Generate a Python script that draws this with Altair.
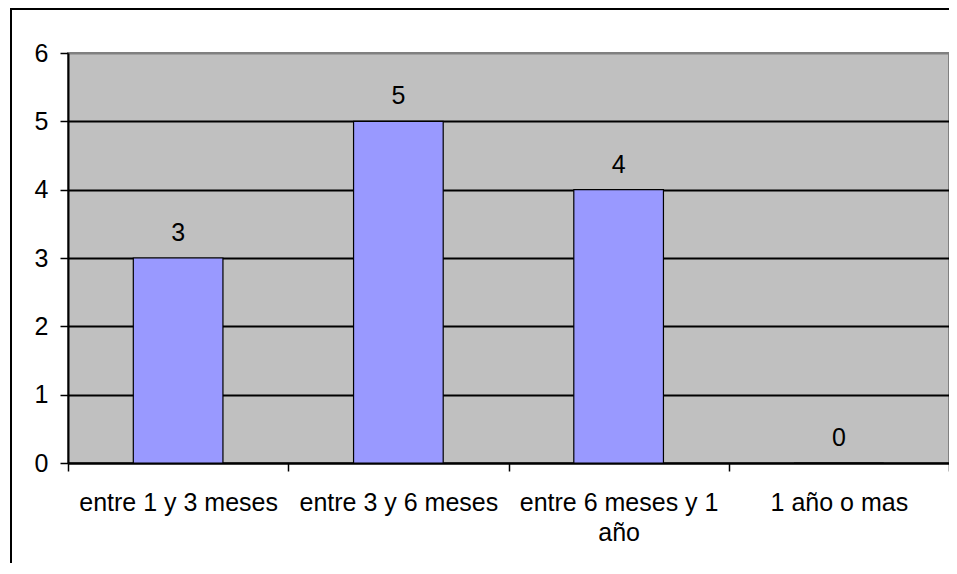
import altair as alt
import pandas as pd

categories = ["entre 1 y 3 meses", "entre 3 y 6 meses", "entre 6 meses y 1 año", "1 año o mas"]
values = [3, 5, 4, 0]
y_ticks = [0, 1, 2, 3, 4, 5, 6]

df = pd.DataFrame({"cat": categories, "val": values})

FONT = "Liberation Sans"
FS = 25

x_enc = alt.X(
    "cat:N",
    sort=None,
    title=None,
    scale=alt.Scale(paddingInner=0, paddingOuter=0),
    axis=alt.Axis(
        labelAngle=0,
        tickBand="extent",
        tickSize=8,
        tickColor="black",
        tickWidth=1.5,
        domainColor="black",
        domainWidth=2,
        labelFont=FONT,
        labelFontSize=FS,
        labelColor="black",
        labelPadding=19,
        labelLimit=0,
        labelLineHeight=30,
        labelBaseline="top",
        labelExpr="datum.label == 'entre 6 meses y 1 año' ? ['entre 6 meses y 1', 'año'] : datum.label",
        grid=False,
    ),
)

y_enc = alt.Y(
    "val:Q",
    title=None,
    scale=alt.Scale(domain=[0, 6], nice=False),
    axis=alt.Axis(
        values=y_ticks,
        format="d",
        tickSize=8,
        tickColor="black",
        tickWidth=1.5,
        domainColor="black",
        domainWidth=2,
        labelFont=FONT,
        labelFontSize=FS,
        labelColor="black",
        labelPadding=12,
        grid=True,
        gridColor={"condition": {"test": "datum.value == 6", "value": "#808080"}, "value": "black"},
        gridWidth=2,
    ),
)

bars = alt.Chart(df).mark_bar(
    fill="#9999FF", stroke="black", strokeWidth=1.2, width=alt.RelativeBandSize(0.407)
).encode(x=x_enc, y=y_enc)

labels = alt.Chart(df).mark_text(
    font=FONT, fontSize=FS, color="black", baseline="alphabetic", dy=-17
).encode(x=alt.X("cat:N", sort=None), y=alt.Y("val:Q"), text=alt.Text("val:Q"))

frame = alt.Chart(alt.Data(values=[{"a": 1}])).mark_rect(
    fill=None, stroke="black", strokeWidth=2
).encode(x=alt.value(-57), x2=alt.value(950), y=alt.value(-44), y2=alt.value(600))

chart = alt.layer(frame, bars, labels).properties(
    width=881,
    height=410,
    background="white",
    padding={"left": 60, "top": 45, "right": 0, "bottom": 100},
    autosize=alt.AutoSizeParams(type="none"),
).configure_view(
    fill="#C0C0C0", stroke="#808080", strokeWidth=2
)

chart.save("out.html", embed_options={"renderer": "svg", "actions": False})
